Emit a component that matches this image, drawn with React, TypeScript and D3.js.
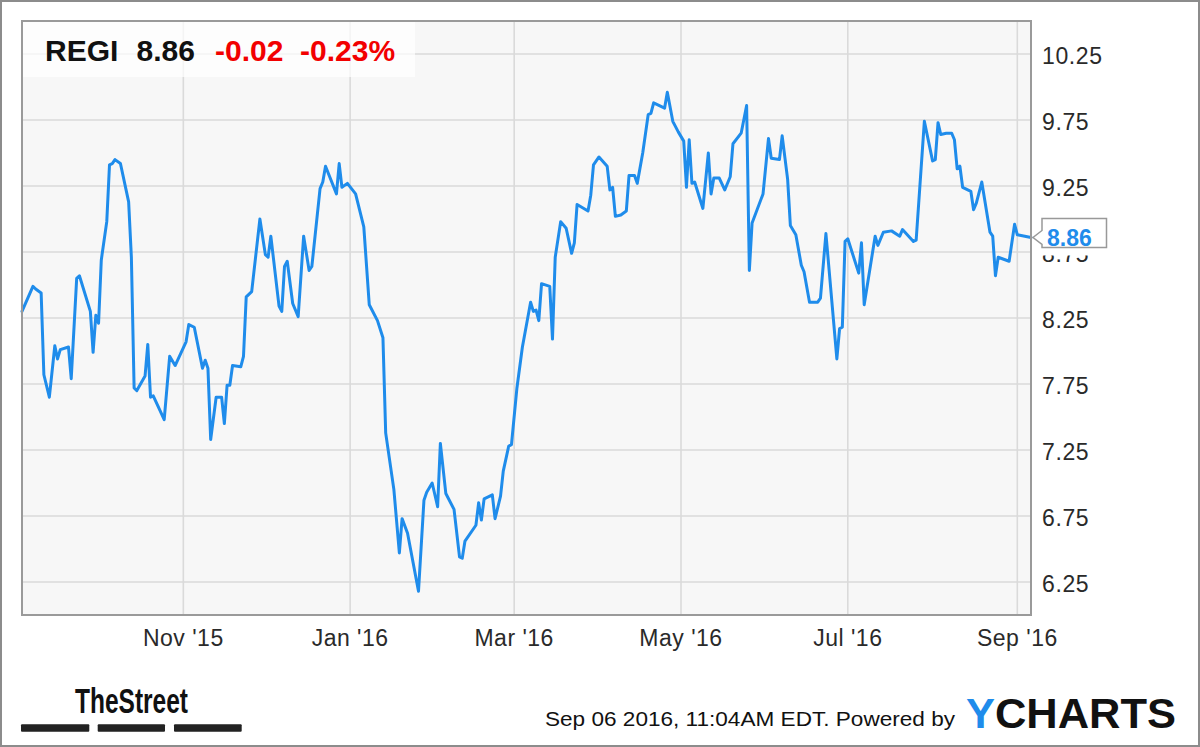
import React from "react";
import * as d3 from "d3";

const dates = [
  "2015-09-03","2015-09-07","2015-09-08","2015-09-10","2015-09-11","2015-09-13","2015-09-15","2015-09-16","2015-09-17","2015-09-20",
  "2015-09-21","2015-09-23","2015-09-24","2015-09-28","2015-09-29","2015-09-30","2015-10-01","2015-10-02","2015-10-04","2015-10-05",
  "2015-10-06","2015-10-07","2015-10-09","2015-10-12","2015-10-13","2015-10-14","2015-10-15","2015-10-18","2015-10-19","2015-10-20",
  "2015-10-21","2015-10-25","2015-10-27","2015-10-29","2015-11-02","2015-11-03","2015-11-05","2015-11-08","2015-11-09","2015-11-10",
  "2015-11-11","2015-11-13","2015-11-15","2015-11-16","2015-11-17","2015-11-18","2015-11-19","2015-11-22","2015-11-23","2015-11-24",
  "2015-11-26","2015-11-29","2015-12-01","2015-12-02","2015-12-03","2015-12-06","2015-12-07","2015-12-08","2015-12-09","2015-12-11",
  "2015-12-13","2015-12-15","2015-12-17","2015-12-18","2015-12-21","2015-12-22","2015-12-23","2015-12-27","2015-12-28","2015-12-29",
  "2015-12-31","2016-01-03","2016-01-06","2016-01-08","2016-01-11","2016-01-13","2016-01-14","2016-01-17","2016-01-19","2016-01-20",
  "2016-01-22","2016-01-26","2016-01-28","2016-01-29","2016-01-31","2016-02-02","2016-02-03","2016-02-05","2016-02-08","2016-02-10",
  "2016-02-11","2016-02-12","2016-02-16","2016-02-17","2016-02-18","2016-02-19","2016-02-22","2016-02-23","2016-02-25","2016-02-26",
  "2016-02-28","2016-02-29","2016-03-02","2016-03-04","2016-03-07","2016-03-08","2016-03-09","2016-03-10","2016-03-11","2016-03-14",
  "2016-03-15","2016-03-16","2016-03-18","2016-03-20","2016-03-22","2016-03-23","2016-03-24","2016-03-28","2016-03-29","2016-03-30",
  "2016-04-01","2016-04-04","2016-04-05","2016-04-06","2016-04-07","2016-04-09","2016-04-11","2016-04-12","2016-04-14","2016-04-15",
  "2016-04-17","2016-04-19","2016-04-20","2016-04-21","2016-04-25","2016-04-26","2016-04-28","2016-04-30","2016-05-02","2016-05-03",
  "2016-05-04","2016-05-05","2016-05-06","2016-05-09","2016-05-11","2016-05-12","2016-05-13","2016-05-15","2016-05-17","2016-05-19",
  "2016-05-20","2016-05-23","2016-05-25","2016-05-26","2016-05-27","2016-05-31","2016-06-02","2016-06-03","2016-06-06","2016-06-07",
  "2016-06-09","2016-06-10","2016-06-12","2016-06-14","2016-06-15","2016-06-17","2016-06-20","2016-06-21","2016-06-23","2016-06-27",
  "2016-06-28","2016-06-29","2016-06-30","2016-07-01","2016-07-05","2016-07-06","2016-07-07","2016-07-11","2016-07-12","2016-07-14",
  "2016-07-17","2016-07-20","2016-07-21","2016-07-25","2016-07-26","2016-07-29","2016-08-01","2016-08-02","2016-08-03","2016-08-04",
  "2016-08-06","2016-08-08","2016-08-09","2016-08-10","2016-08-11","2016-08-12","2016-08-15","2016-08-16","2016-08-17","2016-08-19",
  "2016-08-22","2016-08-23","2016-08-24","2016-08-25","2016-08-29","2016-08-31","2016-09-01","2016-09-06"
];

const prices = [
  8.30,8.49,8.47,8.44,7.82,7.65,8.04,7.94,8.01,8.03,
  7.79,8.55,8.57,8.30,7.99,8.27,8.21,8.69,8.98,9.41,
  9.42,9.45,9.42,9.13,8.71,7.72,7.70,7.81,8.05,7.65,
  7.66,7.48,7.96,7.89,8.07,8.20,8.18,7.87,7.93,7.87,
  7.33,7.65,7.65,7.45,7.74,7.74,7.89,7.88,7.96,8.41,
  8.45,9.00,8.73,8.71,8.87,8.34,8.30,8.64,8.68,8.36,
  8.26,8.87,8.61,8.64,9.23,9.28,9.40,9.19,9.42,9.24,
  9.27,9.19,8.94,8.35,8.23,8.10,7.38,6.95,6.47,6.73,
  6.62,6.18,6.87,6.93,7.00,6.82,7.30,6.92,6.80,6.44,
  6.43,6.56,6.68,6.85,6.72,6.88,6.91,6.73,6.90,7.09,
  7.28,7.29,7.72,8.03,8.37,8.30,8.31,8.23,8.51,8.49,
  8.09,8.71,8.98,8.93,8.74,8.82,9.11,9.06,9.18,9.41,
  9.47,9.40,9.22,9.24,9.02,9.03,9.06,9.33,9.33,9.27,
  9.50,9.79,9.80,9.88,9.84,9.96,9.74,9.66,9.59,9.24,
  9.60,9.27,9.28,9.08,9.50,9.19,9.31,9.31,9.22,9.32,
  9.57,9.65,9.86,8.61,8.97,9.19,9.61,9.46,9.45,9.63,
  9.30,8.95,8.88,8.65,8.60,8.37,8.37,8.40,8.89,7.94,
  8.17,8.18,8.83,8.85,8.59,8.82,8.35,8.87,8.80,8.90,
  8.91,8.87,8.92,8.83,8.84,9.74,9.44,9.45,9.73,9.64,
  9.65,9.65,9.60,9.38,9.40,9.24,9.21,9.07,9.12,9.28,
  8.90,8.87,8.57,8.71,8.68,8.96,8.88,8.86
];

const yTicks = [6.25, 6.75, 7.25, 7.75, 8.25, 8.75, 9.25, 9.75, 10.25];
const xTickDates = ["2015-11-01", "2016-01-01", "2016-03-01", "2016-05-01", "2016-07-01", "2016-09-01"];
const xDomain = ["2015-09-03", "2016-09-06"];
const yDomain = [6.0, 10.5];

const ticker = "REGI";
const lastPrice = "8.86";
const change = "-0.02";
const changePct = "-0.23%";
const footerText = "Sep 06 2016, 11:04AM EDT.  Powered by";

const FONT = "'Liberation Sans', Arial, Helvetica, sans-serif";
const BLUE = "#1f8ceb";

export default function App() {
  const parse = d3.timeParse("%Y-%m-%d");
  const L = 22, R = 1031, T = 21, B = 615;
  const x = d3.scaleTime().domain(xDomain.map((s) => parse(s) as Date)).range([L, R]);
  const y = d3.scaleLinear().domain(yDomain).range([B, T]);
  const data = dates.map((d, i) => ({ date: parse(d) as Date, v: prices[i] }));
  const line = d3.line<{ date: Date; v: number }>().x((d) => x(d.date)).y((d) => y(d.v));
  const fmt = d3.timeFormat("%b '%y");
  const last = data[data.length - 1];
  const tipX = x(last.date) + 2;
  const tipY = y(last.v);
  const bx = tipX + 9;

  return (
    <svg width={1200} height={747} style={{ position: "absolute", left: 0, top: 0, display: "block" }} fontFamily={FONT}>
      <rect x={1} y={1} width={1198} height={745} fill="#fff" stroke="#8c8c8c" strokeWidth={2} />
      <rect x={L} y={T} width={R - L} height={B - T} fill="#f7f7f7" />
      {yTicks.map((t) => (
        <line key={"gy" + t} x1={L} x2={R} y1={y(t)} y2={y(t)} stroke="#dadada" strokeWidth={1.6} />
      ))}
      {xTickDates.map((s) => {
        const xx = x(parse(s) as Date);
        return <line key={"gx" + s} x1={xx} x2={xx} y1={T} y2={B} stroke="#dadada" strokeWidth={1.6} />;
      })}
      <rect x={L} y={T} width={415 - L} height={77 - T} fill="#fff" fillOpacity={0.7} />
      <path d={line(data) || ""} fill="none" stroke={BLUE} strokeWidth={3} strokeLinejoin="round" strokeLinecap="round" />
      <rect x={L} y={T} width={R - L} height={B - T} fill="none" stroke="#9a9a9a" strokeWidth={2} />

      <text x={45} y={61} fontSize={30} fontWeight="bold" fill="#111">{ticker}</text>
      <text x={136.5} y={61} fontSize={30} fontWeight="bold" fill="#111">{lastPrice}</text>
      <text x={215} y={61} fontSize={30} fontWeight="bold" fill="#f20000">{change}</text>
      <text x={300} y={61} fontSize={30} fontWeight="bold" fill="#f20000">{changePct}</text>

      {yTicks.map((t) => (
        <text key={"ly" + t} x={1042} y={y(t) + 10} fontSize={23} letterSpacing={0.6} fill="#2a2a2a">
          {t.toFixed(2)}
        </text>
      ))}
      {xTickDates.map((s) => {
        const d = parse(s) as Date;
        return (
          <text key={"lx" + s} x={x(d)} y={646} fontSize={23} letterSpacing={0.5} textAnchor="middle" fill="#2a2a2a">
            {fmt(d)}
          </text>
        );
      })}

      <rect x={bx} y={tipY - 18} width={64.5} height={36} fill="#fff" />
      <path
        d={`M${bx},${tipY - 19} H${bx + 64.5} V${tipY + 10} H${bx} V${tipY + 7} L${tipX},${tipY} L${bx},${tipY - 7} Z`}
        fill="#fff"
        stroke="#999"
        strokeWidth={1.5}
      />
      <text x={bx + 5} y={tipY + 9} fontSize={23} fontWeight="bold" fill={BLUE}>{lastPrice}</text>

      <text x={75} y={713} fontSize={35} fontWeight="bold" fontFamily="'Liberation Sans Narrow', 'Liberation Sans', Arial, sans-serif" textLength={113} lengthAdjust="spacingAndGlyphs" fill="#111">TheStreet</text>
      {[[21, 89.3], [97.7, 165], [174, 241.7]].map(([a, b], i) => (
        <rect key={"bar" + i} x={a} y={724.3} width={b - a} height={7.4} rx={1} fill="#222" />
      ))}

      <text x={545} y={726} fontSize={21} textLength={410} lengthAdjust="spacingAndGlyphs" fill="#111">{footerText}</text>
      <text x={966} y={728} fontSize={43} fontWeight="bold" textLength={210} lengthAdjust="spacingAndGlyphs" fill="#111">
        <tspan fill={BLUE}>Y</tspan>CHARTS
      </text>
    </svg>
  );
}
